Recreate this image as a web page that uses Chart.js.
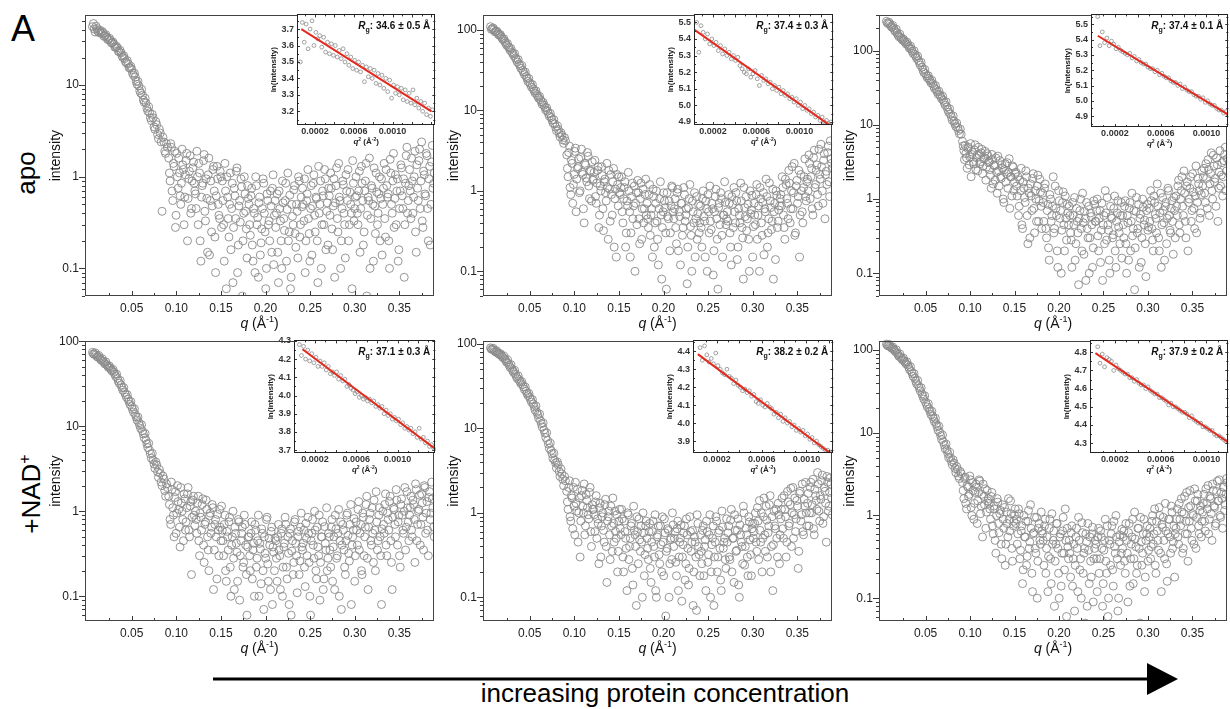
<!DOCTYPE html>
<html><head><meta charset="utf-8">
<script src="https://cdn.jsdelivr.net/npm/chart.js"></script>
<style>
html,body{margin:0;padding:0;}
body{width:1230px;height:709px;background:#fff;position:relative;overflow:hidden;font-family:"Liberation Sans",Arial,Helvetica,sans-serif;}
canvas{position:absolute;}
.lbl{position:absolute;white-space:nowrap;line-height:1;color:#000;}
.rot{transform:translate(-50%,-50%) rotate(-90deg);}
.lbl sup{font-size:62%;line-height:0;vertical-align:0.62em;}
</style></head>
<body>
<svg width="1230" height="709" style="position:absolute;left:0;top:0">
  <line x1="213" y1="679" x2="1150" y2="679" stroke="#000" stroke-width="3"/>
  <polygon points="1147,663 1178,679 1147,695" fill="#000"/>
</svg>
<div class="lbl" style="left:11px;top:11px;font-size:36px;">A</div>
<div class="lbl rot" style="left:25.5px;top:173px;font-size:26px;">apo</div>
<div class="lbl rot" style="left:31px;top:494px;font-size:26px;">+NAD<sup>+</sup></div>
<div class="lbl" style="left:665px;top:680px;font-size:26px;transform:translateX(-50%);">increasing protein concentration</div>
<script>
// ---------------- DATA ----------------
// scattering vector q (1/Å), first set of frames (shared by all six curves)
const qValues = [
0.006,0.008,0.010,0.012,0.014,0.016,0.018,0.020,0.022,0.024,
0.026,0.028,0.030,0.032,0.034,0.036,0.038,0.040,0.042,0.044,
0.046,0.048,0.050,0.052,0.054,0.056,0.058,0.060,0.062,0.064,
0.066,0.068,0.070,0.072,0.074,0.076,0.078,0.080,0.082,0.084,
0.086,0.088,0.090,
0.0915,0.0930,0.0945,0.0960,0.0975,0.0990,0.1005,0.1020,0.1035,0.1050,0.1065,0.1080,0.1095,0.1110,0.1125,0.1140,0.1155,0.1170,0.1185,0.1200,
0.1215,0.1230,0.1245,0.1260,0.1275,0.1290,0.1305,0.1320,0.1335,0.1350,0.1365,0.1380,0.1395,0.1410,0.1425,0.1440,0.1455,0.1470,0.1485,0.1500,
0.1515,0.1530,0.1545,0.1560,0.1575,0.1590,0.1605,0.1620,0.1635,0.1650,0.1665,0.1680,0.1695,0.1710,0.1725,0.1740,0.1755,0.1770,0.1785,0.1800,
0.1815,0.1830,0.1845,0.1860,0.1875,0.1890,0.1905,0.1920,0.1935,0.1950,0.1965,0.1980,0.1995,0.2010,0.2025,0.2040,0.2055,0.2070,0.2085,0.2100,
0.2115,0.2130,0.2145,0.2160,0.2175,0.2190,0.2205,0.2220,0.2235,0.2250,0.2265,0.2280,0.2295,0.2310,0.2325,0.2340,0.2355,0.2370,0.2385,0.2400,
0.2415,0.2430,0.2445,0.2460,0.2475,0.2490,0.2505,0.2520,0.2535,0.2550,0.2565,0.2580,0.2595,0.2610,0.2625,0.2640,0.2655,0.2670,0.2685,0.2700,
0.2715,0.2730,0.2745,0.2760,0.2775,0.2790,0.2805,0.2820,0.2835,0.2850,0.2865,0.2880,0.2895,0.2910,0.2925,0.2940,0.2955,0.2970,0.2985,0.3000,
0.3015,0.3030,0.3045,0.3060,0.3075,0.3090,0.3105,0.3120,0.3135,0.3150,0.3165,0.3180,0.3195,0.3210,0.3225,0.3240,0.3255,0.3270,0.3285,0.3300,
0.3315,0.3330,0.3345,0.3360,0.3375,0.3390,0.3405,0.3420,0.3435,0.3450,0.3465,0.3480,0.3495,0.3510,0.3525,0.3540,0.3555,0.3570,0.3585,0.3600,
0.3615,0.3630,0.3645,0.3660,0.3675,0.3690,0.3705,0.3720,0.3735,0.3750,0.3765,0.3780,0.3795,0.3810,0.3825,0.3840,0.3855,0.3870,0.3885
];
// scattering vector q (1/Å), interleaved second set of frames
const qValuesB = [
0.007,0.009,0.011,0.013,0.015,0.017,0.019,0.021,0.023,0.025,
0.027,0.029,0.031,0.033,0.035,0.037,0.039,0.041,0.043,0.045,
0.047,0.049,0.051,0.053,0.055,0.057,0.059,0.061,0.063,0.065,
0.067,0.069,0.071,0.073,0.075,0.077,0.079,0.081,0.083,0.085,
0.087,0.089,
0.0922,0.0937,0.0952,0.0967,0.0982,0.0997,0.1012,0.1027,0.1042,0.1057,0.1072,0.1087,0.1102,0.1117,0.1132,0.1147,0.1162,0.1177,0.1192,0.1207,
0.1222,0.1237,0.1252,0.1267,0.1282,0.1297,0.1312,0.1327,0.1342,0.1357,0.1372,0.1387,0.1402,0.1417,0.1432,0.1447,0.1462,0.1477,0.1492,0.1507,
0.1522,0.1537,0.1552,0.1567,0.1582,0.1597,0.1612,0.1627,0.1642,0.1657,0.1672,0.1687,0.1702,0.1717,0.1732,0.1747,0.1762,0.1777,0.1792,0.1807,
0.1822,0.1837,0.1852,0.1867,0.1882,0.1897,0.1912,0.1927,0.1942,0.1957,0.1972,0.1987,0.2002,0.2017,0.2032,0.2047,0.2062,0.2077,0.2092,0.2107,
0.2122,0.2137,0.2152,0.2167,0.2182,0.2197,0.2212,0.2227,0.2242,0.2257,0.2272,0.2287,0.2302,0.2317,0.2332,0.2347,0.2362,0.2377,0.2392,0.2407,
0.2422,0.2437,0.2452,0.2467,0.2482,0.2497,0.2512,0.2527,0.2542,0.2557,0.2572,0.2587,0.2602,0.2617,0.2632,0.2647,0.2662,0.2677,0.2692,0.2707,
0.2722,0.2737,0.2752,0.2767,0.2782,0.2797,0.2812,0.2827,0.2842,0.2857,0.2872,0.2887,0.2902,0.2917,0.2932,0.2947,0.2962,0.2977,0.2992,0.3007,
0.3022,0.3037,0.3052,0.3067,0.3082,0.3097,0.3112,0.3127,0.3142,0.3157,0.3172,0.3187,0.3202,0.3217,0.3232,0.3247,0.3262,0.3277,0.3292,0.3307,
0.3322,0.3337,0.3352,0.3367,0.3382,0.3397,0.3412,0.3427,0.3442,0.3457,0.3472,0.3487,0.3502,0.3517,0.3532,0.3547,0.3562,0.3577,0.3592,0.3607,
0.3622,0.3637,0.3652,0.3667,0.3682,0.3697,0.3712,0.3727,0.3742,0.3757,0.3772,0.3787,0.3802,0.3817,0.3832,0.3847,0.3862,0.3877,0.3892
];

// ---- apo, lowest concentration ----
const apoLow = [
43.5,41,44,39,40,36.5,37,34.5,33.5,31.5,31,29,28,26,25.5,23,22.5,20,19.5,17.5,
17,15.5,14.8,12.8,12.2,10.2,9.8,8.2,7.8,6.5,6.4,5.2,5.0,4.1,4.4,3.3,3.7,2.6,3.0,0.42,
2.4,1.8,2.1,
1.6,0.9,2.1,0.55,1.3,0.28,1.8,0.75,1.1,0.5,2.0,1.2,0.6,1.5,0.2,0.95,1.7,0.45,1.25,0.85,
0.65,1.9,0.3,1.1,0.12,0.8,1.5,0.42,0.95,0.15,1.6,0.55,0.25,1.2,0.7,0.09,1.3,0.5,0.35,1.0,
0.9,0.3,1.4,0.06,0.6,0.22,1.1,0.45,0.07,0.75,0.35,1.25,0.18,0.55,0.95,0.05,0.4,0.65,0.27,0.8,
0.5,0.23,0.75,0.12,0.4,1.0,0.3,0.08,0.6,0.19,0.45,0.85,0.25,0.1,0.55,0.33,0.7,0.15,1.05,0.38,
0.28,0.65,0.07,0.45,0.2,0.9,0.35,0.55,0.12,1.1,0.25,0.06,0.5,0.3,0.8,0.17,0.42,1.0,0.22,0.6,
0.75,0.33,0.09,0.55,1.2,0.24,0.45,0.14,0.85,0.38,0.6,0.2,1.3,0.5,0.1,0.7,0.3,0.95,0.42,0.18,
0.62,1.1,0.27,0.48,0.08,0.8,0.35,1.4,0.55,0.2,0.9,0.4,0.13,0.7,1.2,0.3,0.5,0.06,0.85,0.45,
1.0,0.4,0.7,0.15,1.3,0.55,0.25,0.9,0.05,0.6,1.6,0.35,0.75,0.12,0.48,1.1,0.3,0.65,0.2,0.95,
0.5,1.4,0.22,0.8,0.65,0.1,1.1,0.4,1.8,0.58,0.3,0.95,0.16,0.7,1.25,0.45,0.08,0.85,2.1,0.55,
1.2,0.35,0.9,0.6,1.9,0.15,0.75,1.5,0.45,2.4,0.28,1.05,0.62,1.7,0.2,1.3,0.5,2.2,0.85
];
const apoLowB = [
47,38,41.5,37.5,38,38.5,34,35.5,31.5,32.5,29,29.5,26,26.5,23.5,24,21,21,18,18.5,
15.5,16,13.5,13.5,11,11,8.7,9.0,6.9,7.2,5.6,5.8,4.4,4.8,3.5,4.0,2.9,3.3,2.4,2.7,
1.9,2.3,
1.1,2.3,0.7,1.4,1.9,0.38,1.0,1.6,0.62,0.85,1.35,0.3,1.05,1.8,0.58,1.15,0.4,0.9,1.45,0.7,
0.45,1.0,1.4,0.2,0.6,0.85,1.75,0.33,0.58,1.05,0.14,0.9,0.48,1.3,0.22,0.62,0.95,0.38,1.15,0.28,
0.55,0.12,0.7,1.0,0.35,0.5,0.16,0.85,0.28,0.62,1.15,0.09,0.48,0.32,0.78,0.2,1.0,0.42,0.13,0.58,
0.3,0.62,0.18,0.45,0.09,0.8,0.36,0.52,0.14,0.27,0.95,0.4,0.06,0.65,0.3,0.2,0.48,0.75,0.11,0.55,
0.4,0.15,0.7,0.33,0.1,0.52,0.26,0.85,0.44,0.2,0.63,0.08,0.37,0.72,0.24,0.5,0.13,0.9,0.3,0.47,
0.5,0.95,0.2,0.65,0.35,0.12,0.8,0.48,1.05,0.25,0.58,0.07,0.4,0.9,0.3,0.62,1.2,0.16,0.52,0.75,
0.38,0.75,0.16,0.95,0.52,1.25,0.25,0.6,0.1,0.45,0.82,0.3,1.05,0.55,0.2,0.68,0.4,1.5,0.33,0.6,
0.62,0.3,1.15,0.45,0.85,0.18,0.7,1.4,0.38,0.55,0.1,0.8,0.5,1.25,0.24,0.68,0.4,1.0,0.58,0.14,
0.75,0.35,1.2,0.6,0.2,1.55,0.5,0.9,0.28,1.05,0.7,0.12,0.45,1.35,0.62,0.95,0.3,1.7,0.4,0.8,
0.7,1.6,0.4,1.0,0.25,1.35,0.55,2.0,0.9,0.33,1.15,0.65,1.8,0.45,0.95,0.18,1.45,0.75,1.1
];

// ---- apo, medium concentration ----
const apoMid = [
110,104,101,96,93,86,83,76,72,65,62,56,53,48,45,40,38,33.5,31.5,28,
26.5,23,22,19.5,18.6,16.5,15.8,14.2,13.6,11.9,11.6,10.1,9.8,8.5,8.2,7.0,6.8,5.6,5.8,4.7,
4.9,3.9,4.2,
2.8,1.5,3.6,0.9,2.2,1.2,3.1,0.55,1.9,2.5,1.0,3.3,1.6,0.4,2.1,1.3,2.7,0.8,1.75,2.3,
1.4,2.4,0.7,1.8,0.35,1.15,2.0,0.6,1.3,0.95,2.2,0.25,1.05,1.6,0.5,1.9,0.8,0.15,1.2,1.5,
0.9,1.5,0.4,1.1,0.2,0.75,1.7,0.55,0.3,1.25,0.65,0.1,0.95,1.35,0.45,0.8,0.25,1.05,0.6,1.4,
0.7,0.35,1.2,0.5,0.15,0.85,0.4,1.0,0.25,0.6,1.3,0.08,0.55,0.75,0.3,0.95,0.45,0.18,0.65,1.1,
0.45,0.8,0.22,1.05,0.55,0.12,0.7,0.35,0.9,0.5,0.07,0.62,1.2,0.28,0.75,0.4,0.15,0.85,0.52,0.3,
0.65,0.2,1.0,0.42,0.75,0.1,0.55,1.15,0.33,0.6,0.18,0.85,0.45,0.06,0.7,0.95,0.28,0.5,1.3,0.38,
0.55,0.9,0.3,0.12,0.68,1.1,0.4,0.75,0.2,0.5,1.25,0.35,0.08,0.62,0.85,0.45,0.25,1.0,0.58,0.15,
0.7,0.38,1.2,0.5,0.1,0.8,0.28,0.95,0.6,1.4,0.2,0.45,0.75,0.33,1.05,0.55,0.14,0.88,0.42,0.65,
0.9,1.5,0.5,0.25,1.2,0.7,1.8,0.4,1.0,0.6,2.2,0.3,1.35,0.85,0.15,1.6,0.55,1.1,2.5,0.75,
1.4,2.8,0.8,1.9,0.5,3.2,1.2,2.1,0.65,1.6,3.8,1.0,2.4,0.45,1.75,3.0,1.3,4.2,2.2
];
const apoMidB = [
102,106,95,97,88,88,79,78,69,68,60,59,51,51,43,43,36,36,30,30,
25,25,21,21,17.5,17.5,15,15,12.8,12.6,10.9,10.8,9.1,9.2,7.6,7.7,6.2,6.4,5.2,5.3,
4.3,4.6,
1.9,3.0,1.1,2.4,0.7,1.6,3.4,1.4,2.0,0.95,2.6,1.7,0.6,2.2,1.45,3.0,1.15,1.8,0.75,1.35,
1.7,0.85,1.25,2.0,0.5,1.0,1.55,0.32,1.4,0.75,1.1,1.8,0.42,0.9,1.3,0.2,1.05,1.6,0.65,0.95,
1.1,0.55,0.8,1.3,0.3,0.65,1.0,0.15,0.85,0.45,1.15,0.7,0.38,0.95,0.22,1.25,0.6,0.4,0.9,0.5,
0.45,0.9,0.28,0.6,1.05,0.2,0.7,0.42,0.12,0.8,0.5,0.35,0.95,0.62,0.06,0.48,0.75,0.3,1.15,0.55,
0.6,0.35,0.95,0.18,0.48,0.7,0.28,1.1,0.42,0.6,0.2,0.8,0.36,0.1,0.55,0.95,0.45,0.25,0.68,0.4,
0.35,0.8,0.48,0.15,0.6,0.9,0.3,0.42,0.7,0.09,0.55,1.05,0.25,0.62,0.38,0.8,0.15,0.5,0.72,0.45,
0.42,0.7,0.2,0.85,0.35,0.55,0.95,0.14,0.6,0.4,0.75,0.26,1.1,0.48,0.32,0.68,0.1,0.52,0.88,0.36,
0.5,0.9,0.25,0.65,1.1,0.4,0.72,0.16,0.55,0.85,0.3,1.25,0.62,0.42,0.08,0.7,1.0,0.35,0.58,0.8,
0.65,1.1,0.35,1.4,0.8,0.45,1.25,0.6,2.0,0.95,0.28,1.15,0.7,1.8,0.5,1.0,0.4,1.5,0.85,1.3,
1.0,2.2,1.5,0.6,2.6,1.1,1.8,0.9,3.3,1.4,2.0,0.7,2.9,1.6,1.2,3.6,0.85,2.5,1.9
];

// ---- apo, highest concentration ----
const apoHigh = [
250,232,228,208,202,181,174,155,152,139,136,124,121,108,105,92,89,79,74,64,
60,51,49,43,42,37,36,31,30,26,25.5,22.5,21.5,18.5,17.5,14.8,14,11.5,11.2,9.5,
9.2,7.6,7.5,
6.0,4.5,5.3,3.6,4.8,2.9,5.6,4.0,3.2,4.6,2.5,3.9,5.0,3.0,4.2,2.2,3.5,4.4,2.7,3.8,
3.2,2.1,4.0,1.6,2.8,3.6,1.2,2.4,3.3,1.9,2.6,0.9,3.0,2.2,1.4,3.5,2.0,1.1,2.7,1.7,
2.3,1.1,0.6,1.8,2.6,0.4,1.4,0.9,2.0,0.25,1.2,1.6,0.7,2.2,0.35,1.0,1.5,0.5,1.85,0.8,
1.2,0.5,1.6,0.3,0.85,0.15,1.0,0.6,2.0,0.4,0.75,0.2,1.3,0.55,0.1,0.9,0.45,1.1,0.28,0.65,
0.8,0.35,0.12,0.6,1.05,0.25,0.5,0.07,0.7,0.4,1.2,0.18,0.55,0.9,0.3,0.1,0.65,0.45,0.22,0.85,
0.5,1.0,0.2,0.7,0.38,0.08,0.6,1.3,0.28,0.45,0.15,0.8,0.55,0.33,1.1,0.12,0.65,0.42,0.25,0.9,
0.6,0.3,0.95,0.1,0.48,0.75,0.2,1.2,0.4,0.06,0.68,0.35,0.85,0.55,0.14,1.0,0.45,0.25,0.7,0.38,
0.75,1.3,0.4,0.2,0.9,0.55,1.6,0.3,0.65,0.12,1.05,0.48,0.8,0.25,1.4,0.6,0.35,0.95,0.18,0.7,
1.1,0.6,1.8,0.35,1.3,0.8,2.4,0.5,1.5,0.2,1.0,2.0,0.7,1.25,0.4,2.8,0.9,1.6,0.55,1.15,
1.5,2.6,0.9,1.9,3.4,0.6,2.2,1.3,3.9,1.7,0.8,2.9,1.4,4.5,2.1,1.1,3.3,5.0,2.4
];
const apoHighB = [
238,242,215,220,190,195,162,168,146,144,130,131,114,116,98,100,84,85,69,70,
55,56,46,46,39.5,40,33.5,34,28,28.5,24,24.5,20,20.5,16,16.5,12.8,13.2,10.3,10.6,
8.4,8.8,
5.2,3.4,4.1,2.6,5.0,3.7,2.0,4.3,3.0,5.4,3.6,2.4,4.0,3.2,4.7,2.8,3.6,1.8,4.1,3.1,
2.5,1.4,3.4,2.9,1.8,2.3,3.8,1.5,2.0,2.9,1.0,2.5,1.7,3.1,2.3,0.75,2.0,2.8,1.3,2.2,
1.5,2.0,0.8,1.3,0.45,1.7,1.05,2.4,0.6,1.4,0.3,1.1,1.9,0.75,1.3,0.5,2.1,0.95,1.25,0.4,
0.9,1.4,0.4,0.7,0.22,1.15,0.5,0.8,0.35,1.5,0.6,0.12,0.95,0.7,0.38,1.25,0.2,0.55,0.85,0.45,
0.6,0.28,0.9,0.45,0.15,0.75,0.35,0.55,1.0,0.2,0.48,0.68,0.08,0.4,0.8,0.3,0.58,0.12,0.95,0.5,
0.7,0.32,0.55,0.14,0.88,0.45,0.25,0.65,1.05,0.38,0.1,0.58,0.3,0.75,0.2,0.5,0.95,0.35,0.6,0.16,
0.45,0.8,0.25,0.6,0.15,0.9,0.5,0.32,0.7,0.22,1.05,0.4,0.12,0.62,0.3,0.78,0.52,0.09,0.85,0.42,
0.5,0.95,0.28,1.1,0.62,0.35,0.8,0.2,1.2,0.45,0.7,0.15,0.9,0.55,1.3,0.38,0.75,0.5,1.05,0.3,
0.8,1.5,0.45,1.0,2.0,0.6,1.2,0.3,1.7,0.9,1.4,0.5,2.2,0.75,1.1,0.35,1.9,1.3,0.65,2.4,
2.0,1.2,3.0,0.75,2.5,1.6,4.2,1.0,2.8,1.9,3.6,0.5,2.3,1.5,3.1,2.0,4.0,1.3,3.5
];

// ---- +NAD+, lowest concentration ----
const nadLow = [
74,70,69,65,64,59.5,58.5,54,53,49,48.5,44.5,43,38.5,36.5,32,30.5,26.5,25,22,
20.8,18,17,14.6,13.8,11.8,11,9.4,8.8,7.3,6.9,5.6,5.2,4.2,4.0,3.2,3.5,2.5,2.8,2.0,
2.4,1.5,1.9,
1.5,0.8,2.2,1.1,0.5,1.7,0.95,1.3,0.65,1.9,1.0,0.45,1.4,0.75,1.6,0.6,1.15,0.18,1.35,0.9,
1.0,0.55,1.5,0.3,0.85,1.2,0.4,0.7,1.35,0.5,0.2,0.95,0.65,1.1,0.35,0.8,0.16,0.6,1.05,0.45,
0.6,0.3,0.9,0.15,0.5,0.75,0.22,0.4,1.0,0.12,0.55,0.33,0.8,0.09,0.45,0.65,0.25,0.7,0.18,0.38,
0.5,0.2,0.75,0.35,0.1,0.6,0.28,0.9,0.42,0.14,0.55,0.07,0.32,0.8,0.24,0.48,0.12,0.65,0.38,0.2,
0.45,0.15,0.7,0.3,0.55,0.1,0.38,0.85,0.22,0.5,0.08,0.62,0.34,0.18,0.75,0.42,0.11,0.58,0.26,0.95,
0.35,0.6,0.13,0.48,0.85,0.25,0.06,0.55,0.4,1.0,0.2,0.65,0.3,0.09,0.5,0.75,0.16,0.42,1.1,0.28,
0.5,0.22,0.8,0.38,0.12,0.62,0.3,1.05,0.45,0.07,0.7,0.35,0.18,0.9,0.52,0.26,1.2,0.4,0.6,0.15,
0.75,0.4,1.3,0.55,0.2,0.95,0.3,0.65,1.5,0.12,0.8,0.45,1.1,0.25,0.6,1.7,0.35,0.9,0.5,0.08,
1.0,0.55,1.6,0.3,0.8,1.3,0.45,0.12,1.1,0.7,1.8,0.4,0.9,0.22,1.4,0.6,1.0,0.35,1.7,0.75,
0.9,1.5,0.5,1.2,0.25,1.8,0.7,1.05,0.4,1.6,0.85,2.0,0.55,1.3,0.3,1.7,0.95,1.4,0.65
];
const nadLowB = [
71,73,66,68,61,62,56,57,51,51,46,46.5,41,41,34,34.5,28.5,28.5,23.5,23.5,
19.5,19.5,15.8,16,12.8,12.8,10.2,10.4,8.1,8.2,6.2,6.3,4.7,4.8,3.6,3.8,2.9,3.1,2.2,2.6,
1.75,2.1,
1.2,0.7,1.8,0.9,1.45,0.55,2.0,1.05,0.38,1.25,0.8,1.6,0.6,1.1,1.9,0.5,1.3,0.85,1.5,0.68,
0.8,1.25,0.45,0.95,0.6,1.4,0.25,0.75,1.05,0.35,0.88,0.55,1.2,0.12,0.7,0.5,0.92,0.3,0.65,1.15,
0.45,0.7,0.2,0.58,0.35,0.85,0.1,0.5,0.28,0.65,0.42,0.15,0.75,0.3,0.55,0.22,0.9,0.4,0.06,0.5,
0.3,0.55,0.16,0.42,0.7,0.22,0.45,0.1,0.36,0.62,0.2,0.5,0.28,0.85,0.15,0.4,0.58,0.08,0.33,0.48,
0.28,0.5,0.35,0.12,0.62,0.22,0.42,0.7,0.16,0.32,0.55,0.06,0.45,0.25,0.8,0.3,0.5,0.18,0.65,0.38,
0.42,0.22,0.72,0.3,0.55,0.1,0.45,0.8,0.28,0.6,0.16,0.38,0.9,0.25,0.5,0.12,0.66,0.35,0.2,0.55,
0.35,0.65,0.15,0.5,0.9,0.28,0.55,0.1,0.75,0.4,0.6,0.22,0.45,0.95,0.32,0.7,0.08,0.5,0.82,0.3,
0.6,1.05,0.35,0.7,0.18,0.85,0.5,1.2,0.28,0.65,0.95,0.4,0.55,1.35,0.2,0.75,0.45,1.1,0.3,0.62,
0.7,1.2,0.4,0.95,0.6,1.5,0.25,0.85,1.05,0.5,1.35,0.75,0.3,1.2,0.9,0.55,1.9,0.65,1.1,0.45,
1.1,0.6,1.35,0.8,2.1,0.45,1.0,1.55,0.7,1.25,0.35,1.9,0.95,0.6,1.45,0.8,2.2,1.1,0.5
];

// ---- +NAD+, medium concentration ----
const nadMid = [
90,86,85,80,79,75,74,69,67,61,59,53,51,46,44,39,38,34,33,29,
27.5,24.5,23.5,20.5,19.5,16.5,15.6,13.2,12.4,10.4,9.6,7.8,7.2,5.8,5.5,4.4,4.2,3.4,3.7,2.7,
2.9,2.1,2.4,
1.8,1.1,2.4,0.8,1.5,2.0,0.55,1.3,1.9,1.0,0.3,1.6,1.2,2.2,0.7,1.4,0.95,1.75,0.6,1.25,
1.1,0.6,1.6,0.85,0.25,1.3,0.7,1.0,0.45,1.45,0.15,0.9,0.55,1.2,0.35,0.75,1.05,0.5,0.2,0.8,
0.65,1.1,0.3,0.8,0.5,0.12,0.95,0.4,0.7,0.22,1.2,0.55,0.08,0.6,0.85,0.35,0.45,1.0,0.18,0.7,
0.5,0.28,0.75,0.15,0.6,0.4,0.95,0.1,0.55,0.32,0.7,0.2,0.45,0.85,0.06,0.38,0.62,0.25,0.5,1.0,
0.4,0.6,0.18,0.8,0.3,0.5,0.09,0.42,0.7,0.25,0.55,0.14,0.9,0.35,0.62,0.2,0.45,0.07,0.75,0.32,
0.55,0.25,0.7,0.4,0.12,0.6,0.32,0.95,0.2,0.5,0.08,0.45,0.8,0.3,0.62,0.16,1.05,0.38,0.5,0.22,
0.45,0.7,0.28,1.1,0.5,0.15,0.62,0.36,0.85,0.1,0.55,0.4,1.2,0.24,0.66,0.3,0.9,0.48,0.18,0.75,
0.6,1.0,0.35,0.8,1.4,0.45,0.2,0.9,0.55,1.2,0.3,0.7,1.6,0.4,0.12,1.05,0.65,0.5,1.3,0.25,
0.85,1.5,0.5,1.1,0.3,1.8,0.7,1.25,0.4,2.0,0.95,0.6,1.4,0.22,1.7,0.8,2.2,0.55,1.2,1.0,
1.3,0.7,2.0,1.0,2.5,0.55,1.6,1.1,2.2,0.8,1.45,2.8,0.9,1.8,0.45,2.3,1.2,2.6,1.5
];
const nadMidB = [
87,89,82,83,77,77,71,72,64,65,56,57,48,49,41,42,36,36,31,31,
26,26,22,22,18,18.5,14.5,14.8,11.4,11.6,8.8,8.9,6.5,6.7,5.0,5.1,3.9,4.0,3.1,3.3,
2.5,2.7,
1.35,2.0,0.9,1.6,0.65,1.2,2.3,1.05,0.45,1.5,0.8,1.85,1.0,0.55,1.65,1.15,0.85,2.0,0.4,1.1,
0.95,1.35,0.5,0.75,1.15,0.3,0.9,0.62,1.25,0.4,0.8,1.05,0.28,0.7,1.5,0.45,0.6,0.95,0.35,1.1,
0.55,0.85,0.2,0.6,0.38,1.0,0.28,0.5,0.75,0.14,0.62,0.4,0.9,0.25,0.48,0.7,0.1,0.58,0.32,0.8,
0.38,0.6,0.22,0.45,0.8,0.3,0.12,0.52,0.7,0.25,0.42,0.9,0.18,0.58,0.35,0.65,0.1,0.48,0.28,0.72,
0.5,0.26,0.65,0.12,0.45,0.72,0.3,0.58,0.16,0.85,0.38,0.22,0.6,0.45,0.08,0.52,0.3,0.95,0.4,0.18,
0.35,0.62,0.18,0.48,0.8,0.26,0.55,0.1,0.42,0.7,0.3,0.9,0.2,0.58,0.38,0.12,0.68,0.45,0.28,0.85,
0.58,0.3,0.82,0.2,0.5,0.95,0.35,0.62,0.14,0.72,0.45,0.25,1.0,0.4,0.55,0.18,0.78,0.32,0.65,0.5,
0.75,0.45,1.15,0.28,0.62,1.0,0.5,1.5,0.35,0.82,0.58,1.25,0.2,0.9,0.42,0.7,1.1,0.3,0.95,0.55,
1.1,0.65,1.6,0.9,0.45,1.35,0.75,1.95,1.0,0.5,1.5,0.85,1.2,0.35,1.8,0.95,0.6,1.45,2.3,0.7,
1.7,1.0,2.3,1.25,0.65,1.9,1.4,3.0,1.05,1.6,2.4,0.75,2.0,1.3,2.7,1.05,1.75,2.2,0.95
];

// ---- +NAD+, highest concentration ----
const nadHigh = [
118,112,111,105,103,96,92,84,82,76,74,68,66,58,55,48,45.5,39,37,32,
29.5,25.5,23.5,20.5,19.5,16.6,15.8,13.6,12.8,10.7,10.1,8.3,7.8,6.4,6.2,5.0,5.0,4.1,4.3,3.3,
3.6,2.8,3.2,
2.5,1.6,2.9,1.2,2.2,1.8,2.7,1.0,2.0,1.4,2.4,0.8,1.9,2.6,1.3,0.55,1.7,2.1,1.1,1.5,
1.4,0.9,1.9,0.6,1.2,0.35,1.6,0.8,1.05,0.45,1.35,0.7,0.25,1.1,0.55,0.9,1.5,0.4,0.75,1.0,
0.8,0.45,1.2,0.3,0.65,0.15,1.0,0.55,0.25,0.85,0.4,1.35,0.2,0.6,0.95,0.35,0.1,0.7,0.5,1.1,
0.6,0.25,0.9,0.4,0.12,0.7,0.3,1.05,0.5,0.08,0.45,0.8,0.2,0.55,0.14,0.65,0.35,1.2,0.06,0.42,
0.5,0.18,0.75,0.3,0.07,0.55,0.4,0.95,0.22,0.1,0.62,0.35,0.05,0.48,0.8,0.15,0.28,0.6,0.09,0.4,
0.45,0.12,0.7,0.3,0.55,0.08,0.38,0.9,0.2,0.06,0.5,0.25,0.75,0.14,0.42,1.0,0.3,0.1,0.58,0.35,
0.4,0.65,0.2,0.5,0.09,0.8,0.3,0.55,0.15,1.1,0.42,0.25,0.7,0.05,0.48,0.35,0.9,0.18,0.6,0.28,
0.55,0.3,0.85,0.45,1.2,0.2,0.65,0.38,1.0,0.12,0.72,0.5,1.4,0.26,0.6,0.9,0.35,1.1,0.48,0.18,
0.7,1.2,0.45,0.9,1.6,0.35,1.05,0.6,1.9,0.28,0.85,1.3,0.5,1.0,2.1,0.4,1.5,0.75,1.15,0.55,
1.1,1.8,0.65,1.4,2.3,0.9,1.6,0.5,2.0,1.25,0.8,2.6,1.5,1.0,1.9,0.7,2.2,1.35,2.8
];
const nadHighB = [
114,117,108,109,99,101,88,90,79,80,71,72,62,63,52,52,42,43,34.5,35,
27.5,28,22,22.5,18,18.2,14.7,15,11.8,12,9.2,9.4,7.1,7.3,5.6,5.8,4.5,4.7,3.7,3.9,
3.0,3.4,
2.0,2.8,1.4,2.3,1.7,3.0,1.25,2.5,0.9,1.9,2.2,1.5,2.7,1.05,1.8,2.4,1.35,0.7,2.0,1.6,
1.2,1.7,0.75,1.3,0.5,1.0,1.45,0.62,1.15,0.3,0.9,1.25,0.45,0.8,1.6,0.65,1.05,0.28,0.85,1.2,
0.9,0.6,1.05,0.38,0.75,0.22,0.55,0.85,0.32,1.15,0.48,0.7,0.12,0.62,0.4,0.95,0.28,0.8,0.45,0.65,
0.5,0.75,0.2,0.55,0.32,0.9,0.15,0.45,0.65,0.28,0.8,0.4,0.1,0.6,0.35,0.95,0.22,0.5,0.7,0.3,
0.35,0.62,0.14,0.45,0.25,0.7,0.12,0.5,0.3,0.82,0.2,0.4,0.6,0.08,0.38,0.55,0.18,0.72,0.3,0.5,
0.3,0.55,0.2,0.65,0.4,0.15,0.5,0.28,0.75,0.1,0.45,0.6,0.22,0.85,0.35,0.55,0.07,0.48,0.25,0.68,
0.55,0.28,0.8,0.35,0.62,0.14,0.45,0.9,0.3,0.52,0.2,0.7,0.4,0.95,0.25,0.6,0.12,0.5,0.75,0.38,
0.7,0.42,1.0,0.6,0.25,0.85,0.5,1.25,0.35,0.78,0.95,0.3,0.65,0.16,0.9,0.55,1.3,0.4,0.75,0.6,
0.9,0.55,1.4,0.75,1.1,0.4,1.7,0.85,0.6,1.25,2.0,0.7,1.05,0.45,1.5,0.95,1.8,0.6,1.3,0.85,
1.4,0.85,2.1,1.2,0.6,1.7,1.05,2.4,1.3,0.75,1.95,1.5,2.7,0.95,1.6,2.2,1.15,1.8,2.5
];

// Guinier insets: q^2 (1/Å^2), shared grid
const insetQ2 = [
0.00005,0.00007,0.00009,0.00011,0.00013,0.00015,0.00017,0.00019,0.00021,0.00023,
0.00025,0.00027,0.00029,0.00031,0.00033,0.00035,0.00037,0.00039,0.00041,0.00043,
0.00045,0.00047,0.00049,0.00051,0.00053,0.00055,0.00057,0.00059,0.00061,0.00063,
0.00065,0.00067,0.00069,0.00071,0.00073,0.00075,0.00077,0.00079,0.00081,0.00083,
0.00085,0.00087,0.00089,0.00091,0.00093,0.00095,0.00097,0.00099,0.00101,0.00103,
0.00105,0.00107,0.00109,0.00111,0.00113,0.00115,0.00117,0.00119,0.00121,0.00123,
0.00125,0.00127,0.00129,0.00131,0.00133,0.00135,0.00137,0.00139,0.00141
];
const lnApoLow = [3.50,3.74,3.62,3.73,3.58,3.70,3.75,3.60,3.68,3.64,3.66,3.59,3.65,3.56,3.62,3.55,3.61,3.54,3.60,3.53,3.57,3.52,3.58,3.50,3.55,3.48,3.53,3.46,3.51,3.45,3.50,3.44,3.48,3.38,3.47,3.41,3.46,3.40,3.45,3.37,3.43,3.36,3.42,3.34,3.40,3.32,3.39,3.28,3.36,3.31,3.35,3.30,3.34,3.27,3.33,3.26,3.31,3.25,3.33,3.24,3.28,3.22,3.26,3.20,3.25,3.18,3.22,3.17,3.21];
const lnApoMid = [5.50,5.32,5.48,5.44,5.40,5.43,5.37,5.40,5.36,5.38,5.33,5.36,5.31,5.34,5.30,5.32,5.28,5.30,5.27,5.29,5.24,5.22,5.20,5.19,5.22,5.17,5.19,5.21,5.16,5.12,5.18,5.15,5.16,5.13,5.14,5.10,5.12,5.09,5.11,5.07,5.09,5.06,5.07,5.04,5.05,5.02,5.04,5.00,5.02,4.98,5.00,4.97,4.98,4.95,4.96,4.93,4.94,4.91,4.93,4.90,4.91,4.89,4.90];
const lnApoHigh = [5.55,5.36,5.45,5.38,5.41,5.36,5.39,5.37,5.34,5.35,5.33,5.32,5.31,5.30,5.31,5.28,5.29,5.26,5.27,5.25,5.24,5.24,5.22,5.21,5.21,5.19,5.20,5.17,5.18,5.16,5.15,5.15,5.13,5.12,5.12,5.10,5.11,5.08,5.09,5.07,5.06,5.06,5.04,5.03,5.03,5.01,5.02,4.99,5.00,4.98,4.97,4.97,4.95,4.94,4.94,4.92,4.93,4.91];
const lnNadLow = [4.28,4.22,4.27,4.20,4.25,4.19,4.23,4.18,4.21,4.16,4.19,4.16,4.18,4.14,4.16,4.12,4.13,4.11,4.13,4.09,4.11,4.08,4.09,4.05,4.06,4.04,4.03,4.01,4.02,3.99,4.00,3.98,3.99,3.97,3.98,3.96,3.97,3.94,3.95,3.93,3.94,3.90,3.92,3.89,3.90,3.87,3.88,3.86,3.87,3.84,3.85,3.82,3.83,3.81,3.82,3.79,3.80,3.77,3.82,3.76,3.77,3.74,3.75,3.72,3.73,3.71,3.72];
const lnNadMid = [4.42,4.35,4.43,4.38,4.34,4.36,4.33,4.39,4.32,4.30,4.28,4.27,4.30,4.26,4.25,4.22,4.24,4.21,4.20,4.18,4.19,4.17,4.18,4.15,4.16,4.12,4.11,4.13,4.10,4.09,4.11,4.09,4.08,4.05,4.06,4.03,4.05,4.01,4.03,4.00,4.01,3.98,3.99,3.96,3.97,3.95,3.96,3.93,3.94,3.91,3.92,3.89,3.90,3.88,3.87,3.86,3.85,3.85,3.84,3.84];
const lnNadHigh = [4.83,4.74,4.79,4.72,4.77,4.76,4.75,4.70,4.73,4.71,4.70,4.69,4.68,4.68,4.66,4.66,4.64,4.65,4.63,4.62,4.62,4.60,4.61,4.59,4.58,4.57,4.57,4.55,4.55,4.54,4.53,4.51,4.52,4.50,4.50,4.49,4.48,4.47,4.47,4.46,4.44,4.45,4.43,4.42,4.41,4.41,4.39,4.39,4.38,4.37,4.37,4.35,4.34,4.34,4.33,4.32,4.31,4.31];

// Guinier fit lines (end points)
const fitQ2ApoLow = [0.00006, 0.00140], fitLnApoLow = [3.70, 3.20];
const fitQ2ApoMid = [0.00003, 0.00128], fitLnApoMid = [5.455, 4.88];
const fitQ2ApoHigh = [0.00005, 0.00119], fitLnApoHigh = [5.425, 4.91];
const fitQ2NadLow = [0.00008, 0.00138], fitLnNadLow = [4.254, 3.70];
const fitQ2NadMid = [0.00003, 0.00122], fitLnNadMid = [4.384, 3.83];
const fitQ2NadHigh = [0.00003, 0.00119], fitLnNadHigh = [4.795, 4.305];

const rgLabels = ['34.6 ± 0.5 Å','37.4 ± 0.3 Å','37.4 ± 0.1 Å','37.1 ± 0.3 Å','38.2 ± 0.2 Å','37.9 ± 0.2 Å'];
const xTickLabels = ['0.05','0.10','0.15','0.20','0.25','0.30','0.35'];
const yTickLabels = ['0.1','1','10','100'];
const insetXTickLabels = ['0.0002','0.0006','0.0010'];

// ---------------- LAYOUT ----------------
const FONT = '"Liberation Sans", Arial, Helvetica, sans-serif';
const panels = [
  {values: apoLow,  valuesB: apoLowB,  L:85,  T:12,  R:436,  B:296, ymin:0.050, ymax:58},
  {values: apoMid,  valuesB: apoMidB,  L:483, T:12,  R:834,  B:296, ymin:0.0493, ymax:153},
  {values: apoHigh, valuesB: apoHighB, L:879, T:12,  R:1229, B:296, ymin:0.0493, ymax:302},
  {values: nadLow,  valuesB: nadLowB,  L:85,  T:338, R:436,  B:621, ymin:0.0512, ymax:100},
  {values: nadMid,  valuesB: nadMidB,  L:483, T:338, R:834,  B:621, ymin:0.0524, ymax:108},
  {values: nadHigh, valuesB: nadHighB, L:879, T:338, R:1229, B:621, ymin:0.053, ymax:128}
];
const insets = [
  {values: lnApoLow,  fx: fitQ2ApoLow,  fy: fitLnApoLow,  rg: rgLabels[0], L:297,  T:12,  R:436,  B:125, xmin:0.0000154, xmax:0.00144,  ymin:3.117, ymax:3.789},
  {values: lnApoMid,  fx: fitQ2ApoMid,  fy: fitLnApoMid,  rg: rgLabels[1], L:694,  T:12,  R:834,  B:125, xmin:0.0000253, xmax:0.001313, ymin:4.882, ymax:5.548},
  {values: lnApoHigh, fx: fitQ2ApoHigh, fy: fitLnApoHigh, rg: rgLabels[2], L:1091, T:12,  R:1229, B:127, xmin:-0.0000087, xmax:0.001191, ymin:4.829, ymax:5.5645},
  {values: lnNadLow,  fx: fitQ2NadLow,  fy: fitLnNadLow,  rg: rgLabels[3], L:294,  T:338, R:436,  B:453, xmin:-0.0000024, xmax:0.001366, ymin:3.684, ymax:4.303},
  {values: lnNadMid,  fx: fitQ2NadMid,  fy: fitLnNadMid,  rg: rgLabels[4], L:693,  T:338, R:834,  B:453, xmin:-0.0000133, xmax:0.00124,  ymin:3.834, ymax:4.4604},
  {values: lnNadHigh, fx: fitQ2NadHigh, fy: fitLnNadHigh, rg: rgLabels[5], L:1090, T:338, R:1229, B:453, xmin:-0.0000174, xmax:0.001191, ymin:4.246, ymax:4.865}
];

function makeCanvas(left, top, w, h) {
  const c = document.createElement('canvas');
  c.width = w; c.height = h;
  c.style.cssText = 'left:' + left + 'px;top:' + top + 'px;width:' + w + 'px;height:' + h + 'px;';
  document.body.appendChild(c);
  return c;
}

function drawParts(ctx, parts, x, baseline, align) {
  let total = 0;
  const ws = parts.map(p => { ctx.font = p[1]; const w = ctx.measureText(p[0]).width; total += w; return w; });
  let cx = align === 'center' ? x - total / 2 : (align === 'right' ? x - total : x);
  ctx.textAlign = 'left'; ctx.textBaseline = 'alphabetic';
  parts.forEach((p, i) => { ctx.font = p[1]; ctx.fillText(p[0], cx, baseline + p[2]); cx += ws[i]; });
}

const mainDeco = {
  id: 'mainDeco',
  afterDraw(chart) {
    const ctx = chart.ctx, a = chart.chartArea, x = chart.scales.x, y = chart.scales.y;
    ctx.save();
    ctx.strokeStyle = '#3a3a3a'; ctx.lineWidth = 1;
    ctx.beginPath();
    for (let k = 1; k * 0.025 < x.max; k++) {
      const px = Math.round(x.getPixelForValue(k * 0.025)) + 0.5;
      const len = k % 2 === 0 ? 5 : 3;
      ctx.moveTo(px, a.bottom); ctx.lineTo(px, a.bottom - len);
    }
    const d0 = Math.floor(Math.log10(y.min)), d1 = Math.ceil(Math.log10(y.max));
    for (let d = d0; d <= d1; d++) {
      for (let m = 1; m <= 9; m++) {
        const v = m * Math.pow(10, d);
        if (v < y.min || v > y.max) continue;
        const py = Math.round(y.getPixelForValue(v)) + 0.5;
        ctx.moveTo(a.left, py); ctx.lineTo(a.left - (m === 1 ? 6 : 3), py);
      }
    }
    ctx.stroke();
    ctx.strokeStyle = '#444';
    ctx.strokeRect(Math.round(a.left) + 0.5, Math.round(a.top) + 0.5, Math.round(a.right - a.left) - 1, Math.round(a.bottom - a.top) - 1);
    ctx.fillStyle = '#111';
    ctx.save();
    ctx.translate(a.left - 29, (a.top + a.bottom) / 2);
    ctx.rotate(-Math.PI / 2);
    ctx.font = '14px ' + FONT; ctx.textAlign = 'center'; ctx.textBaseline = 'middle';
    ctx.fillText('intensity', 0, 0);
    ctx.restore();
    drawParts(ctx, [
      ['q', 'italic 14px ' + FONT, 0],
      [' (Å', '14px ' + FONT, 0],
      ['-1', '9px ' + FONT, -6],
      [')', '14px ' + FONT, 0]
    ], (a.left + a.right) / 2, a.bottom + 32, 'center');
    ctx.restore();
  }
};

const insetDeco = {
  id: 'insetDeco',
  beforeDraw(chart) {
    const ctx = chart.ctx, a = chart.chartArea;
    ctx.save(); ctx.fillStyle = '#fff';
    ctx.fillRect(a.left, a.top, a.right - a.left, a.bottom - a.top);
    ctx.restore();
  },
  afterDraw(chart, args, opts) {
    const ctx = chart.ctx, a = chart.chartArea, x = chart.scales.x, y = chart.scales.y;
    ctx.save();
    ctx.strokeStyle = '#333'; ctx.lineWidth = 1;
    ctx.beginPath();
    for (let k = Math.ceil(x.min / 0.0001); k * 0.0001 <= x.max; k++) {
      if (k <= 0) continue;
      const px = Math.round(x.getPixelForValue(k * 0.0001)) + 0.5;
      const len = k % 2 === 0 ? 3 : 2;
      ctx.moveTo(px, a.bottom); ctx.lineTo(px, a.bottom - len);
      ctx.moveTo(px, a.top); ctx.lineTo(px, a.top + len);
    }
    for (let k = Math.ceil(y.min / 0.05); k * 0.05 <= y.max; k++) {
      const py = Math.round(y.getPixelForValue(k * 0.05)) + 0.5;
      const len = k % 2 === 0 ? 3 : 2;
      ctx.moveTo(a.left, py); ctx.lineTo(a.left + len, py);
      ctx.moveTo(a.right, py); ctx.lineTo(a.right - len, py);
    }
    ctx.stroke();
    ctx.strokeStyle = '#222';
    ctx.strokeRect(Math.round(a.left) + 0.5, Math.round(a.top) + 0.5, Math.round(a.right - a.left) - 1, Math.round(a.bottom - a.top) - 1);
    ctx.fillStyle = '#222';
    ctx.save();
    ctx.translate(a.left - 23, (a.top + a.bottom) / 2);
    ctx.rotate(-Math.PI / 2);
    ctx.font = 'bold 8px ' + FONT; ctx.textAlign = 'center'; ctx.textBaseline = 'middle';
    ctx.fillText('ln(intensity)', 0, 0);
    ctx.restore();
    drawParts(ctx, [
      ['q', 'italic bold 8px ' + FONT, 0],
      ['2', 'bold 5px ' + FONT, -3],
      [' (Å', 'bold 8px ' + FONT, 0],
      ['-2', 'bold 5px ' + FONT, -3],
      [')', 'bold 8px ' + FONT, 0]
    ], (a.left + a.right) / 2, a.bottom + 19, 'center');
    ctx.fillStyle = '#111';
    drawParts(ctx, [
      ['R', 'italic bold 10px ' + FONT, 0],
      ['g', 'bold 7px ' + FONT, 3],
      [': ' + opts.rg, 'bold 10px ' + FONT, 0]
    ], a.right - 5, a.top + 15, 'right');
    ctx.restore();
  }
};

const pointStyle = {
  pointRadius: 4, pointHoverRadius: 4, pointBorderWidth: 0.9,
  pointBorderColor: '#8a8a8a', pointBackgroundColor: 'rgba(255,255,255,0)',
  clip: {left: 6, top: 6, right: 0, bottom: 0}
};

// ---------------- MAIN PANELS ----------------
panels.forEach(p => {
  const padL = 80, padT = 10, padR = 3, padB = 42;
  const w = p.R - p.L + padL + padR, h = p.B - p.T + padT + padB;
  const cv = makeCanvas(p.L - padL, p.T - padT, w, h);
  const ptsA = p.values.map((v, i) => ({x: qValues[i], y: v}));
  const ptsB = p.valuesB.map((v, i) => ({x: qValuesB[i], y: v}));
  new Chart(cv, {
    type: 'scatter',
    data: { datasets: [
      Object.assign({data: ptsA}, pointStyle),
      Object.assign({data: ptsB}, pointStyle)
    ]},
    options: {
      responsive: false, animation: false, events: [], devicePixelRatio: 1,
      layout: { padding: {left: 0, top: padT, right: padR, bottom: 0} },
      plugins: { legend: {display: false}, tooltip: {enabled: false} },
      scales: {
        x: {
          type: 'linear', min: -0.0024, max: 0.389,
          grid: {display: false, drawTicks: false}, border: {display: false},
          ticks: {
            stepSize: 0.025, includeBounds: false, autoSkip: false, maxRotation: 0, minRotation: 0,
            padding: 5, color: '#222', font: {family: FONT, size: 12},
            callback: v => {
              const k = v * 100;
              if (Math.abs(k - Math.round(k)) > 1e-6) return '';
              const s = (Math.round(k) / 100).toFixed(2);
              return xTickLabels.includes(s) ? s : '';
            }
          },
          afterFit: s => { s.height = padB; }
        },
        y: {
          type: 'logarithmic', min: p.ymin, max: p.ymax,
          grid: {display: false, drawTicks: false}, border: {display: false},
          ticks: {
            autoSkip: false, padding: 6, color: '#222', font: {family: FONT, size: 12},
            callback: v => {
              const lg = Math.log10(v), r = Math.round(lg);
              if (Math.abs(lg - r) > 1e-6) return '';
              const s = r >= 0 ? String(Math.pow(10, r)) : Math.pow(10, r).toFixed(-r);
              return yTickLabels.includes(s) ? s : '';
            }
          },
          afterFit: s => { s.width = padL; }
        }
      }
    },
    plugins: [mainDeco]
  });
});

// ---------------- GUINIER INSETS ----------------
insets.forEach(p => {
  const padL = 34, padT = 6, padR = 2, padB = 26;
  const w = p.R - p.L + padL + padR, h = p.B - p.T + padT + padB;
  const cv = makeCanvas(p.L - padL, p.T - padT, w, h);
  const pts = p.values.map((v, i) => ({x: insetQ2[i], y: v}));
  const fit = p.fx.map((v, i) => ({x: v, y: p.fy[i]}));
  new Chart(cv, {
    type: 'scatter',
    data: { datasets: [
      { data: fit, showLine: true, borderColor: '#e42a1e', borderWidth: 2, pointRadius: 0, pointHoverRadius: 0, clip: 0, order: 0 },
      { data: pts, pointRadius: 1.9, pointHoverRadius: 1.9, pointBorderWidth: 0.8,
        pointBorderColor: '#8a8a8a', pointBackgroundColor: 'rgba(255,255,255,0)', clip: 0, order: 1 }
    ]},
    options: {
      responsive: false, animation: false, events: [], devicePixelRatio: 1,
      layout: { padding: {left: 0, top: padT, right: padR, bottom: 0} },
      plugins: { legend: {display: false}, tooltip: {enabled: false}, insetDeco: {rg: p.rg} },
      scales: {
        x: {
          type: 'linear', min: p.xmin, max: p.xmax,
          grid: {display: false, drawTicks: false}, border: {display: false},
          ticks: {
            stepSize: 0.0002, includeBounds: false, autoSkip: false, maxRotation: 0, minRotation: 0,
            padding: 1, color: '#333', font: {family: FONT, size: 9, weight: 'bold'},
            callback: v => {
              const k = v / 0.0001;
              if (Math.abs(k - Math.round(k)) > 1e-6) return '';
              const s = (Math.round(k) * 0.0001).toFixed(4);
              return insetXTickLabels.includes(s) ? s : '';
            }
          },
          afterFit: s => { s.height = padB; }
        },
        y: {
          type: 'linear', min: p.ymin, max: p.ymax,
          grid: {display: false, drawTicks: false}, border: {display: false},
          ticks: {
            stepSize: 0.1, includeBounds: false, autoSkip: false,
            padding: 3, color: '#333', font: {family: FONT, size: 9, weight: 'bold'},
            callback: v => {
              const k = v * 10;
              if (Math.abs(k - Math.round(k)) > 1e-6) return '';
              return (Math.round(k) / 10).toFixed(1);
            }
          },
          afterFit: s => { s.width = padL; }
        }
      }
    },
    plugins: [insetDeco]
  });
});
</script>
</body></html>
